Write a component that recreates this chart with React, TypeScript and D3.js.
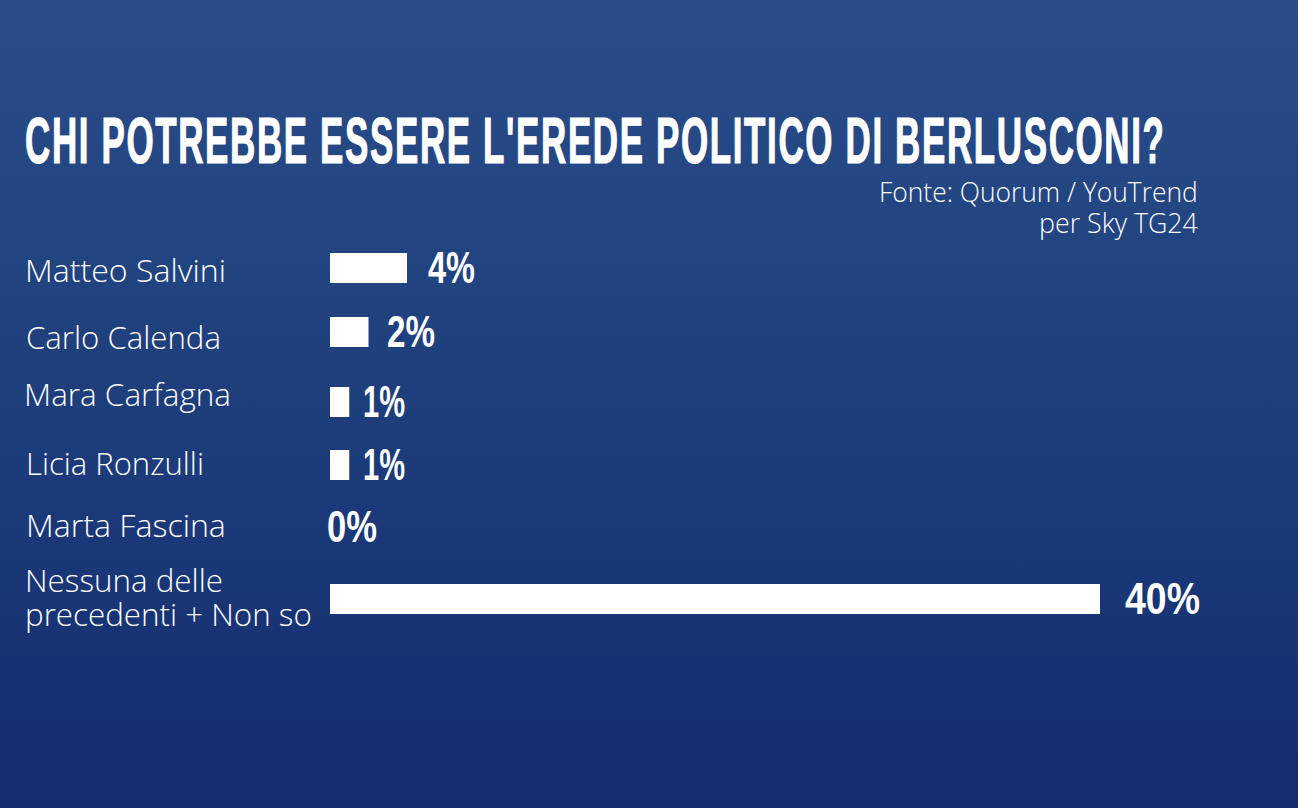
import React from "react";
import * as d3 from "d3";

// Data
const categories = ["Matteo Salvini", "Carlo Calenda", "Mara Carfagna", "Licia Ronzulli", "Marta Fascina", "Nessuna delle|precedenti + Non so"];
const values = [4, 2, 1, 1, 0, 40];
const valueLabels = ["4%", "2%", "1%", "1%", "0%", "40%"];
const title = "CHI POTREBBE ESSERE L'EREDE POLITICO DI BERLUSCONI?";
const sourceLines = ["Fonte: Quorum / YouTrend", "per Sky TG24"];

// Layout (the rows are not evenly spaced)
const rowCenters = [268, 332, 402, 465, 527, 599];
const labelBoxes: [number, number, number][][] = [
  [[25, 282, 201]],
  [[26, 349, 195]],
  [[24, 406, 207]],
  [[26, 475, 178]],
  [[26, 537, 200]],
  [[25, 592, 198], [25, 626, 287]],
];
const valueBoxes: [number, number][] = [[428, 47], [387, 48], [363, 42], [363, 42], [327, 50], [1125, 75]];
const sourceBoxes: [number, number, number][] = [[879, 202, 319], [1039, 233, 159]];

const sans = "'Open Sans', 'Noto Sans', sans-serif";
const heavy = "'Liberation Sans', Arial, sans-serif";

const ctx = document.createElement("canvas").getContext("2d")!;

function FitText({ x, y, width, size, family, weight, tracking = 0, stroke = 0, children }: any) {
  ctx.font = `${weight} ${size}px ${family}`;
  const natural = ctx.measureText(children).width + tracking * children.length;
  const sx = width / natural;
  return (
    <text
      transform={`translate(${x},${y}) scale(${sx},1)`}
      fill="#fff"
      stroke={stroke ? "#fff" : "none"}
      strokeWidth={stroke}
      fontFamily={family}
      fontWeight={weight}
      fontSize={size}
      letterSpacing={tracking}
    >
      {children}
    </text>
  );
}

export default function App() {
  const x = d3.scaleLinear().domain([0, 40]).range([330, 1100]);
  return (
    <svg width={1298} height={808} style={{ position: "fixed", left: 0, top: 0 }}>
      <defs>
        <linearGradient id="bg" x1="0" y1="0" x2="0" y2="1">
          <stop offset="0%" stopColor="#2a4d8a" />
          <stop offset="35%" stopColor="#21437f" />
          <stop offset="100%" stopColor="#132c70" />
        </linearGradient>
      </defs>
      <rect width={1298} height={808} fill="url(#bg)" />
      <FitText x={25} y={163} width={1141} size={64} family={heavy} weight={700} tracking={3} stroke={1.2}>{title}</FitText>
      {sourceLines.map((s, i) => (
        <FitText key={s} x={sourceBoxes[i][0]} y={sourceBoxes[i][1]} width={sourceBoxes[i][2]} size={27} family={sans} weight={300}>{s}</FitText>
      ))}
      {categories.map((c, i) =>
        c.split("|").map((line, j) => (
          <FitText key={line} x={labelBoxes[i][j][0]} y={labelBoxes[i][j][1]} width={labelBoxes[i][j][2]} size={31} family={sans} weight={300}>{line}</FitText>
        ))
      )}
      {values.map((v, i) => (
        <rect key={categories[i]} x={x(0)} y={rowCenters[i] - 15} width={x(v) - x(0)} height={30} fill="#fff" />
      ))}
      {values.map((v, i) => (
        <FitText key={categories[i]} x={valueBoxes[i][0]} y={rowCenters[i] + 15} width={valueBoxes[i][1]} size={45} family={heavy} weight={700}>{valueLabels[i]}</FitText>
      ))}
    </svg>
  );
}
